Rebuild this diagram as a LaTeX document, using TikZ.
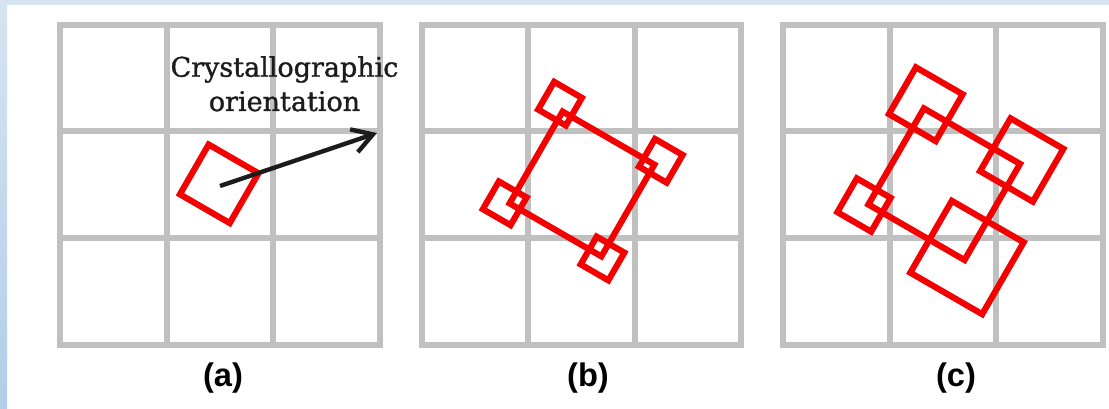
\documentclass[tikz,border=0pt]{standalone}
\usepackage{fontspec}
\usetikzlibrary{arrows.meta}
\newfontfamily\captionserif[FakeBold=1.2]{DejaVu Serif}
\newfontfamily\panelsans{Liberation Sans}

\definecolor{gridgray}{RGB}{192,192,192}
\definecolor{grainred}{RGB}{245,0,0}
\definecolor{inkdark}{RGB}{28,28,28}
\definecolor{stripblue}{RGB}{214,228,242}
\definecolor{stripdeep}{RGB}{178,205,234}

\tikzset{
  gridline/.style={draw=gridgray, line width=4.5pt, line join=miter},
  grainline/.style={draw=grainred, line width=4.6pt, line join=miter},
  orarrow/.style={draw=inkdark, line width=3.3pt,
    -{Straight Barb[length=15pt,width=18pt,line width=3.3pt]}},
  captiontext/.style={inner sep=0pt, text=inkdark,
    font=\captionserif\fontsize{20.25pt}{24pt}\selectfont},
  panellabel/.style={inner sep=0pt, text=black,
    font=\panelsans\bfseries\fontsize{24.5pt}{28pt}\selectfont}
}

% 3x3 lattice of cells, top-left corner at (#1,#2)
\newcommand\cellgrid[2]{%
  \draw[gridline] (#1,#2) rectangle ++(319.5,319.5);
  \foreach \k in {1,2}{%
    \draw[gridline] ({#1+106.5*\k},#2) -- ++(0,319.5);
    \draw[gridline] (#1,{#2+106.5*\k}) -- ++(319.5,0);
  }%
}

% tilted square grain: centre (#1,#2), side #3, tilt #4 degrees
\newcommand\grain[4]{%
  \draw[grainline] (#1,#2) +({#4+45}:{#3*0.70711}) -- +({#4+135}:{#3*0.70711})
    -- +({#4+225}:{#3*0.70711}) -- +({#4+315}:{#3*0.70711}) -- cycle;%
}

\begin{document}
\begin{tikzpicture}[x=0.75pt, y=-0.75pt]
  \useasboundingbox (0,0) rectangle (1109,409);

  % page frame
  \fill[white] (0,0) rectangle (1109,409);
  \fill[stripblue] (0,0) rectangle (1109,5);
  \shade[top color=stripblue, bottom color=stripdeep] (0,0) rectangle (7,409);

  % lattices
  \cellgrid{60}{25}
  \cellgrid{421.7}{25}
  \cellgrid{783.3}{25}

  % (a) single grain with its orientation
  \grain{219.2}{183.8}{57.5}{30}
  \coordinate (orTail) at (220,186);
  \coordinate (orTip) at (377,133);
  \draw[orarrow] (orTail) -- (orTip);
  \node[captiontext, anchor=base] (crys) at (284.5,76.7) {Crystallographic};
  \node[captiontext, anchor=base] (orient) at (284.5,111) {orientation};

  % (b) grain with four small neighbours at its corners
  \grain{582}{184}{106}{30}
  \grain{560}{103.7}{32}{30}
  \grain{660.8}{160.8}{32}{30}
  \grain{602.5}{258.5}{32}{30}
  \grain{504.7}{203.3}{32}{30}

  % (c) neighbours grown to different sizes
  \grain{944.2}{184.2}{111}{30}
  \grain{925.8}{104.2}{54}{30}
  \grain{1021.7}{160}{61}{30}
  \grain{864}{205}{39}{30}
  \grain{967}{257.5}{83}{30}

  % panel labels
  \node[panellabel, anchor=base] (labA) at (223,386.5) {(a)};
  \node[panellabel, anchor=base] (labB) at (588,386.5) {(b)};
  \node[panellabel, anchor=base] (labC) at (956,386.5) {(c)};
\end{tikzpicture}
\end{document}
